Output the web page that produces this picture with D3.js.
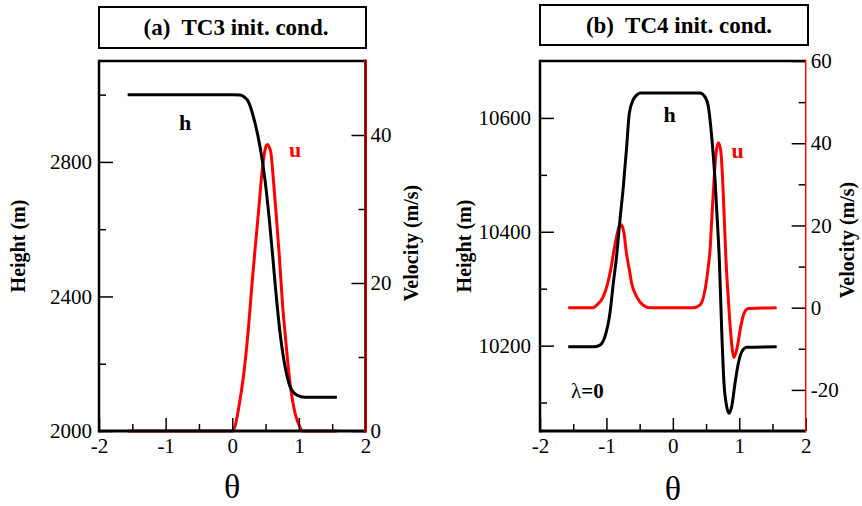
<!DOCTYPE html>
<html>
<head>
<meta charset="utf-8">
<script src="https://cdn.jsdelivr.net/npm/d3@7"></script>
<style>
  body { margin: 0; background: #fff; }
  svg text { font-family: "Liberation Serif", "Times New Roman", serif; }
</style>
</head>
<body>
<div id="chart"></div>
<script>
// theta ticks, shared by both panels
const thetaMajor = [-2, -1, 0, 1, 2];
const thetaMinor = [-1.5, -0.5, 0.5, 1.5];

// (a) TC3 initial condition
const tc3ThetaH = [-1.57, 0.0, 0.12, 0.18, 0.242, 0.342, 0.417, 0.492, 0.557, 0.608, 0.643, 0.718, 0.793, 0.868, 0.968, 1.09, 1.57];
const tc3H      = [3000, 3000, 2999, 2993, 2979, 2915, 2845, 2746, 2627, 2518, 2439, 2291, 2191, 2132, 2107, 2100, 2100];
const tc3ThetaU = [-1.57, 0.0, 0.04, 0.1, 0.167, 0.242, 0.293, 0.342, 0.392, 0.443, 0.492, 0.527, 0.578, 0.617, 0.658, 0.707, 0.76, 0.793, 0.868, 0.943, 1.018, 1.05, 1.57];
const tc3U      = [0, 0, 0.6, 3.3, 7.3, 13.8, 19.5, 24.5, 29.4, 34.6, 38.0, 38.7, 37.7, 34.0, 29.4, 23.6, 16.5, 13.2, 6.4, 2.4, 0.5, 0, 0];
const tc3HeightMajor = [2000, 2400, 2800];
const tc3HeightMinor = [2200, 2600, 3000];
const tc3VelMajor = [0, 20, 40];
const tc3VelMinor = [10, 30];

// (b) TC4 initial condition
const tc4ThetaH = [-1.575, -1.198, -1.097, -1.022, -0.947, -0.897, -0.846, -0.796, -0.746, -0.695, -0.656, -0.596, -0.545, -0.495,
                   0.409, 0.484, 0.534, 0.585, 0.635, 0.669, 0.70, 0.736, 0.77, 0.811, 0.846, 0.886, 0.936, 0.986, 1.037, 1.112, 1.563];
const tc4H      = [10198, 10198, 10201, 10216, 10257, 10309, 10358, 10421, 10479, 10550, 10608, 10632, 10640, 10644,
                   10644, 10637, 10620, 10567, 10491, 10421, 10350, 10225, 10134, 10093, 10081, 10093, 10134, 10169, 10189, 10197, 10198];
const tc4ThetaU = [-1.575, -1.198, -1.147, -1.047, -0.981, -0.936, -0.886, -0.836, -0.81, -0.785, -0.76, -0.735, -0.705, -0.655, -0.62, -0.545, -0.445, -0.344,
                   0.308, 0.409, 0.484, 0.534, 0.56, 0.585, 0.62, 0.65, 0.685, 0.72, 0.75, 0.775, 0.80, 0.836, 0.871, 0.921, 0.971, 1.022, 1.072, 1.137, 1.563];
const tc4U      = [0, 0, 0.6, 2.7, 5.9, 9.2, 14.0, 18.1, 19.7, 20.2, 19.7, 18.1, 14.0, 9.2, 5.9, 2.7, 0.6, 0,
                   0, 0.65, 4.3, 10.0, 14.0, 21.3, 31.0, 37.5, 40.1, 38.3, 31.0, 21.3, 11.6, 1.9, -6.2, -12.1, -9.5, -4.6, -1.4, -0.2, 0];
const tc4HeightMajor = [10200, 10400, 10600];
const tc4HeightMinor = [10100, 10300, 10500];
const tc4VelMajor = [-20, 0, 20, 40, 60];
const tc4VelMinor = [-10, 10, 30, 50];

const serif = "Liberation Serif, Times New Roman, serif";

const svg = d3.select("#chart").append("svg")
    .attr("width", 862)
    .attr("height", 506)
    .attr("font-family", serif);

function drawPanel(p) {
    const x = d3.scaleLinear().domain([-2, 2]).range([p.left, p.right]);
    const yh = d3.scaleLinear().domain(p.hDomain).range([p.bottom, p.top]);
    const yu = d3.scaleLinear().domain(p.uDomain).range([p.bottom, p.top]);
    const fmt = d => String(d); // plain hyphen for negatives

    // title box
    svg.append("rect")
        .attr("x", p.boxX).attr("y", p.boxY)
        .attr("width", p.boxW).attr("height", p.boxH)
        .attr("fill", "none").attr("stroke", "#000").attr("stroke-width", 2);
    svg.append("text")
        .attr("x", p.titleX).attr("y", p.titleY)
        .attr("text-anchor", "middle")
        .style("font-size", "23px").style("font-weight", "bold")
        .text(p.title);

    // curves
    const lineH = d3.line().x(d => x(d[0])).y(d => yh(d[1])).curve(d3.curveMonotoneX);
    const lineU = d3.line().x(d => x(d[0])).y(d => yu(d[1])).curve(d3.curveMonotoneX);
    svg.append("path")
        .attr("d", lineU(d3.zip(p.thetaU, p.u)))
        .attr("fill", "none").attr("stroke", "#ff0000").attr("stroke-width", 3);
    svg.append("path")
        .attr("d", lineH(d3.zip(p.thetaH, p.h)))
        .attr("fill", "none").attr("stroke", "#000").attr("stroke-width", 3);

    // axes, ticks pointing inward
    const axes = [
        [d3.axisBottom(x).tickValues(thetaMajor).tickSize(-13).tickPadding(7).tickFormat(fmt), `translate(0,${p.bottom})`],
        [d3.axisBottom(x).tickValues(thetaMinor).tickSize(-7).tickFormat(""), `translate(0,${p.bottom})`],
        [d3.axisLeft(yh).tickValues(p.hMajor).tickSize(-14).tickPadding(p.leftPad).tickFormat(fmt), `translate(${p.left},0)`],
        [d3.axisLeft(yh).tickValues(p.hMinor).tickSize(-7).tickFormat(""), `translate(${p.left},0)`],
        [d3.axisRight(yu).tickValues(p.uMajor).tickSize(-14).tickPadding(5).tickFormat(fmt), `translate(${p.right},0)`],
        [d3.axisRight(yu).tickValues(p.uMinor).tickSize(-7).tickFormat(""), `translate(${p.right},0)`]
    ];
    axes.forEach(([ax, tr]) => {
        const g = svg.append("g").attr("transform", tr).call(ax)
            .attr("font-family", serif)
            .attr("font-size", 21);
        g.select(".domain").remove();
        g.selectAll("line").attr("stroke", "#000").attr("stroke-width", 1.5);
        g.selectAll("text").attr("fill", "#000");
    });

    // frame
    svg.append("line").attr("x1", p.left).attr("x2", p.right).attr("y1", p.top).attr("y2", p.top)
        .attr("stroke", "#000").attr("stroke-width", 2.5);
    svg.append("line").attr("x1", p.left).attr("x2", p.right).attr("y1", p.bottom).attr("y2", p.bottom)
        .attr("stroke", "#000").attr("stroke-width", 3);
    svg.append("line").attr("x1", p.left).attr("x2", p.left).attr("y1", p.top - 1.2).attr("y2", p.bottom + 1.5)
        .attr("stroke", "#000").attr("stroke-width", 2.5);
    svg.append("line").attr("x1", p.right).attr("x2", p.right).attr("y1", p.top - 1.2).attr("y2", p.bottom + 1.5)
        .attr("stroke", "#ff0000").attr("stroke-width", p.rightW);
    if (p.rightDark) {
        svg.append("line").attr("x1", p.right).attr("x2", p.right).attr("y1", p.top - 1.2).attr("y2", p.bottom + 1.5)
            .attr("stroke", "#400000").attr("stroke-width", 1.4);
    }

    // axis titles
    svg.append("text")
        .attr("transform", `translate(${p.hLabelX},${p.hLabelY}) rotate(-90)`)
        .attr("text-anchor", "middle")
        .style("font-size", "20px").style("font-weight", "bold")
        .text("Height (m)");
    svg.append("text")
        .attr("transform", `translate(${p.uLabelX},${p.uLabelY}) rotate(-90)`)
        .attr("text-anchor", "middle")
        .style("font-size", "20px").style("font-weight", "bold")
        .text("Velocity (m/s)");
    svg.append("text")
        .attr("x", x(0)).attr("y", p.thetaY)
        .attr("text-anchor", "middle")
        .style("font-size", "34px")
        .text("θ");

    // curve labels
    svg.append("text")
        .attr("x", p.hTagX).attr("y", p.hTagY)
        .attr("text-anchor", "middle")
        .style("font-size", "22px").style("font-weight", "bold")
        .text("h");
    svg.append("text")
        .attr("x", p.uTagX).attr("y", p.uTagY)
        .attr("text-anchor", "middle")
        .attr("fill", "#ff0000")
        .style("font-size", "22px").style("font-weight", "bold")
        .text("u");
}

drawPanel({
    left: 99, right: 365.5, top: 61, bottom: 431,
    hDomain: [2000, 3100], uDomain: [0, 50],
    hMajor: tc3HeightMajor, hMinor: tc3HeightMinor, uMajor: tc3VelMajor, uMinor: tc3VelMinor,
    thetaH: tc3ThetaH, h: tc3H, thetaU: tc3ThetaU, u: tc3U,
    boxX: 99, boxY: 7, boxW: 267, boxH: 41,
    title: "(a)\u00A0 TC3 init. cond.", titleX: 236, titleY: 35,
    leftPad: 7, rightW: 3, rightDark: true,
    hLabelX: 25, hLabelY: 246, uLabelX: 418, uLabelY: 243, thetaY: 498,
    hTagX: 185, hTagY: 130, uTagX: 295, uTagY: 157
});

drawPanel({
    left: 540, right: 805.7, top: 61, bottom: 431,
    hDomain: [10050, 10700], uDomain: [-30, 60],
    hMajor: tc4HeightMajor, hMinor: tc4HeightMinor, uMajor: tc4VelMajor, uMinor: tc4VelMinor,
    thetaH: tc4ThetaH, h: tc4H, thetaU: tc4ThetaU, u: tc4U,
    boxX: 540, boxY: 5, boxW: 268, boxH: 40,
    title: "(b)\u00A0 TC4 init. cond.", titleX: 679, titleY: 33,
    leftPad: 9, rightW: 1.5, rightDark: false,
    hLabelX: 471, hLabelY: 246, uLabelX: 854, uLabelY: 240, thetaY: 500,
    hTagX: 669.5, hTagY: 122, uTagX: 737.5, uTagY: 158
});

// lambda note in panel (b)
const lam = svg.append("text")
    .attr("x", 571).attr("y", 398)
    .style("font-size", "21px");
lam.append("tspan").text("λ");
lam.append("tspan").style("font-weight", "bold").text("=0");
</script>
</body>
</html>
